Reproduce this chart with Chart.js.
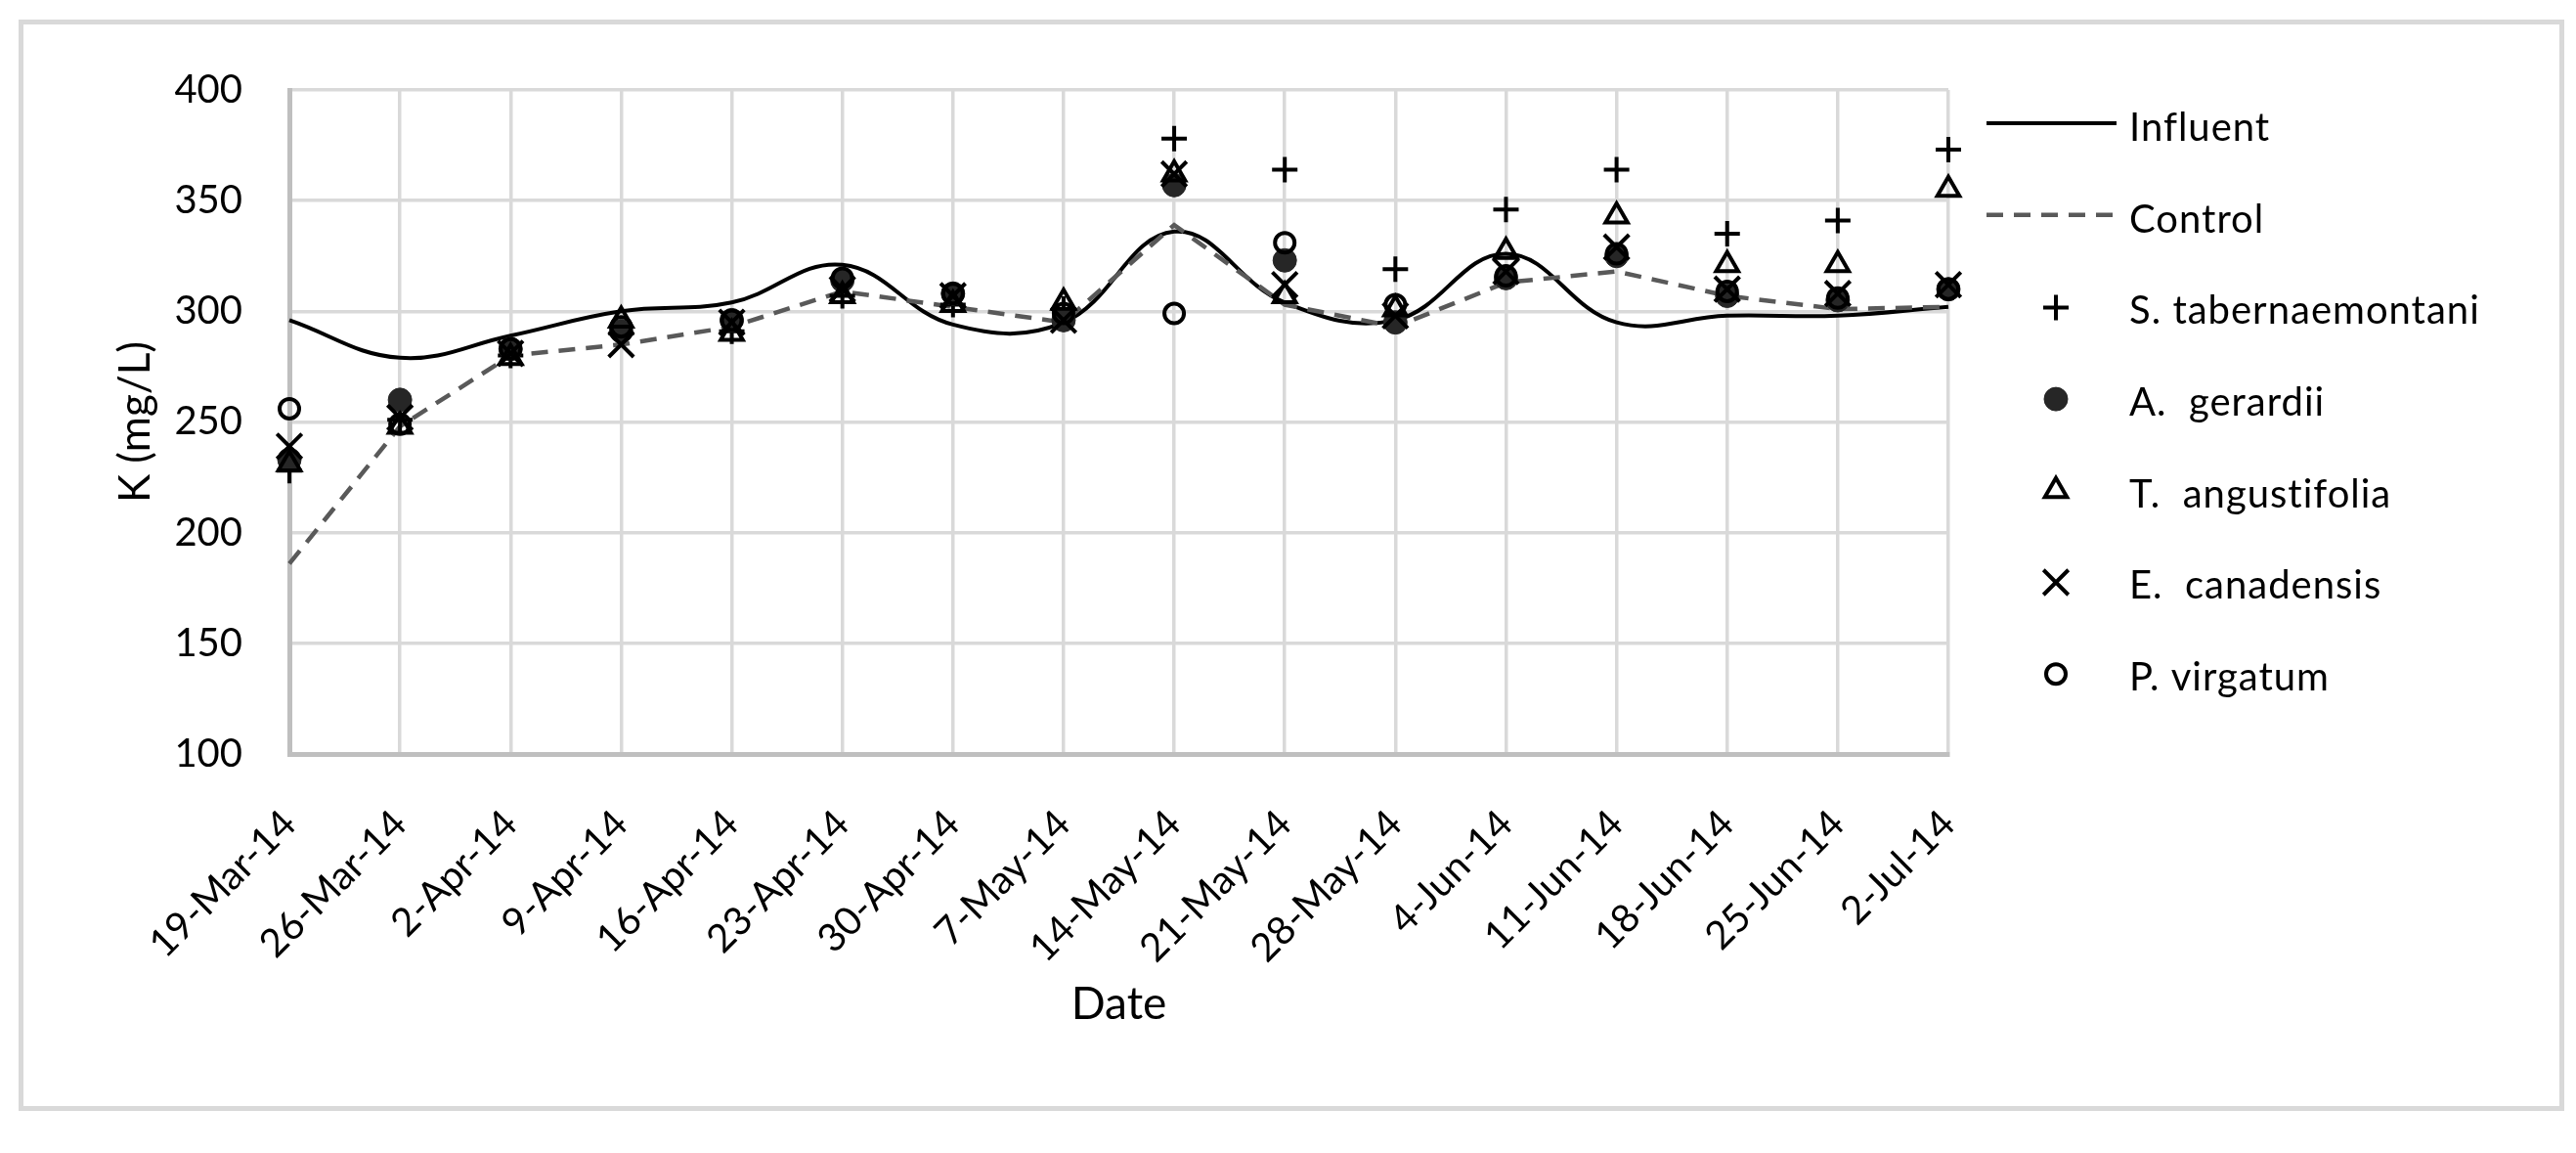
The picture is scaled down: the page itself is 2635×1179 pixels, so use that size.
<!DOCTYPE html>
<html>
<head>
<meta charset="utf-8">
<style>
  html, body { margin: 0; padding: 0; background: #fff; }
  canvas { display: block; }
</style>
<script src="https://cdn.jsdelivr.net/npm/chart.js@4.4.1/dist/chart.umd.min.js"></script>
</head>
<body>
<canvas id="chart" width="2635" height="1179"></canvas>
<script>
// sampling dates
const dates = ['19-Mar-14', '26-Mar-14', '2-Apr-14', '9-Apr-14', '16-Apr-14', '23-Apr-14',
    '30-Apr-14', '7-May-14', '14-May-14', '21-May-14', '28-May-14', '4-Jun-14',
    '11-Jun-14', '18-Jun-14', '25-Jun-14', '2-Jul-14'];

// K (mg/L)
const influent = [296, 279, 289, 300, 304, 321, 294, 295, 336, 304, 296, 326, 295, 298, 298, 302];
const control = [186, 248, 280, 285, 293, 309, 302, 295, 339, 303, 293, 313, 318, 307, 301, 302];
const sTabernaemontani = [228, 251, 280, 290, 291, 307, 303, 301, 378, 364, 319, 346, 364, 335, 341, 373];
const aGerardii = [233, 260, 283, 291, 296, 314, 308, 296, 357, 323, 295, 315, 325, 307, 305, 310];
const tAngustifolia = [231, 248, 279, 296, 290, 307, 303, 304, 362, 307, 301, 327, 343, 321, 321, 355];
const eCanadensis = [239, 252, 281, 285, 295, 310, 307, 296, 362, 312, 298, 318, 329, 310, 308, 312];
const pVirgatum = [256, 249, 283, 293, 296, 315, 308, 299, 299, 331, 303, 316, 326, 309, 306, 310];

const yTicks = [100, 150, 200, 250, 300, 350, 400];

Chart.defaults.font.family = 'Lato';
Chart.defaults.color = '#000';

const markerSet = (label, data, style, radius, fill, order) => ({
    label,
    data,
    showLine: false,
    pointStyle: style,
    pointRadius: radius,
    pointBorderWidth: style === 'circle' && fill !== 'transparent' ? 1 : 4,
    pointBorderColor: fill === 'transparent' ? '#000' : fill,
    pointBackgroundColor: fill,
    borderColor: '#000',
    order,
});

// white page + light grey frame round the whole figure
const framePlugin = {
    id: 'frame',
    beforeDraw: (chart) => {
        const ctx = chart.ctx;
        ctx.save();
        ctx.fillStyle = '#fff';
        ctx.fillRect(0, 0, chart.width, chart.height);
        ctx.strokeStyle = '#d9d9d9';
        ctx.lineWidth = 5;
        ctx.strokeRect(21.5, 22.5, 2599, 1111);
        ctx.restore();
    },
};

// Excel style legend: one row per series, line samples are wider than markers
const sideLegendPlugin = {
    id: 'sideLegend',
    afterDraw: (chart) => {
        const ctx = chart.ctx;
        const area = chart.chartArea;
        const x0 = area.right + 39;
        const y0 = area.top + 39;
        const step = 93.7;

        ctx.save();
        chart.data.datasets.forEach((ds, i) => {
            const y = y0 + i * step;

            if (ds.showLine === false) {
                ctx.strokeStyle = ds.pointBorderColor;
                ctx.fillStyle = ds.pointBackgroundColor;
                ctx.lineWidth = ds.pointBorderWidth;
                ctx.setLineDash([]);
                Chart.helpers.drawPoint(ctx, {
                    pointStyle: ds.pointStyle,
                    radius: ds.pointRadius,
                    borderWidth: ds.pointBorderWidth,
                    rotation: 0,
                }, x0 + 71, y - 4);
            } else {
                ctx.strokeStyle = ds.borderColor;
                ctx.lineWidth = ds.borderWidth;
                ctx.setLineDash(ds.borderDash || []);
                ctx.beginPath();
                ctx.moveTo(x0, y - 5);
                ctx.lineTo(x0 + 133, y - 5);
                ctx.stroke();
            }

            ctx.setLineDash([]);
            ctx.fillStyle = '#000';
            ctx.font = '40px Lato';
            ctx.letterSpacing = '1px';
            ctx.textAlign = 'left';
            ctx.textBaseline = 'middle';
            ctx.fillText(ds.label, x0 + 146, y);
            ctx.letterSpacing = '0px';
        });
        ctx.restore();
    },
};

const config = {
    type: 'line',
    data: {
        labels: dates,
        datasets: [
            {
                label: 'Influent',
                data: influent,
                borderColor: '#000',
                borderWidth: 4,
                tension: 0.4,
                pointRadius: 0,
                order: 6,
            },
            {
                label: 'Control',
                data: control,
                borderColor: '#595959',
                borderWidth: 4.5,
                borderDash: [17, 11],
                tension: 0,
                pointRadius: 0,
                order: 5,
            },
            markerSet('S. tabernaemontani', sTabernaemontani, 'cross', 13, 'transparent', 4),
            markerSet('A.  gerardii', aGerardii, 'circle', 12, '#262626', 3),
            markerSet('T.  angustifolia', tAngustifolia, 'triangle', 13, 'transparent', 2),
            markerSet('E.  canadensis', eCanadensis, 'crossRot', 18, 'transparent', 1),
            markerSet('P. virgatum', pVirgatum, 'circle', 10, 'transparent', 0),
        ],
    },
    options: {
        responsive: false,
        devicePixelRatio: 1,
        animation: false,
        events: [],
        layout: {
            padding: { top: 92, right: 642, bottom: 0, left: 0 },
        },
        plugins: {
            legend: { display: false },
            tooltip: { enabled: false },
        },
        scales: {
            x: {
                grid: {
                    color: '#d9d9d9',
                    lineWidth: 3.5,
                    drawTicks: false,
                },
                border: { color: '#bfbfbf', width: 5 },
                ticks: {
                    autoSkip: false,
                    minRotation: 45,
                    maxRotation: 45,
                    padding: 48,
                    font: { size: 40 },
                },
                title: {
                    display: true,
                    text: 'Date',
                    font: { size: 46 },
                    padding: { top: 0, bottom: 124 },
                },
                afterFit: (scale) => {
                    scale.height = 408;
                },
            },
            y: {
                min: 100,
                max: 400,
                afterBuildTicks: (scale) => {
                    scale.ticks = yTicks.map((v) => ({ value: v }));
                },
                grid: {
                    color: '#d9d9d9',
                    lineWidth: 3.5,
                    drawTicks: false,
                },
                border: { color: '#bfbfbf', width: 5 },
                ticks: {
                    padding: 48,
                    font: { size: 40 },
                },
                title: {
                    display: true,
                    text: 'K (mg/L)',
                    font: { size: 44 },
                    padding: { top: 112, bottom: 0 },
                },
                afterFit: (scale) => {
                    scale.width = 296;
                },
            },
        },
    },
    plugins: [framePlugin, sideLegendPlugin],
};

new Chart(document.getElementById('chart').getContext('2d'), config);
</script>
</body>
</html>
